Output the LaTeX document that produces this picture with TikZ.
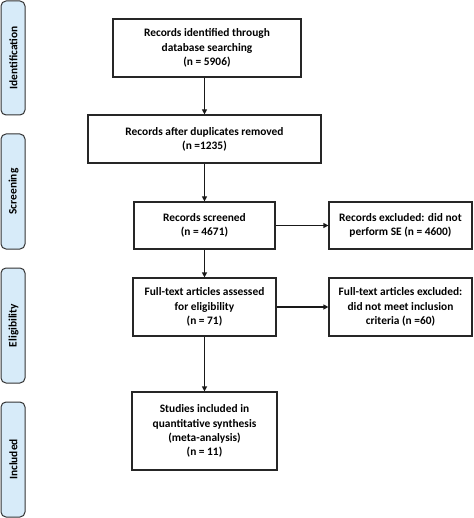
\documentclass[tikz,border=0pt]{standalone}
\usepackage{fontspec}
\setmainfont{Carlito}
\usetikzlibrary{arrows.meta}
\begin{document}
\begin{tikzpicture}[x=1pt,y=-1pt,
  box/.style={draw=black!85,line width=1.2pt,align=center,font=\bfseries\fontsize{11.4}{14.2}\selectfont,inner sep=0pt},
  phase/.style={draw=black!80,line width=1pt,rounded corners=5pt},
  phasetext/.style={font=\bfseries\fontsize{11.4}{13}\selectfont,rotate=90},
  arr/.style={-{Triangle[length=5pt,width=5pt]},line width=1.2pt,black!90}]
\useasboundingbox (0,0) rectangle (473,518);
\definecolor{phasefill}{HTML}{D7EBF9}
% phases
\draw[phase,fill=phasefill] (1,1) rectangle (25,115);
\node[phasetext] (pid) at (13.5,58) {Identification};
\draw[phase,fill=phasefill] (1,134) rectangle (25,249);
\node[phasetext] (psc) at (13.5,191.5) {Screening};
\draw[phase,fill=phasefill] (1,268) rectangle (25,383);
\node[phasetext] (pel) at (13.5,325.5) {Eligibility};
\draw[phase,fill=phasefill] (1,402) rectangle (25,517);
\node[phasetext] (pin) at (13.5,459.5) {Included};
% boxes
\node[box,minimum width=188pt,minimum height=58pt] (b1) at (207,48) {Records identified through\\database searching\\(n = 5906)};
\node[box,minimum width=233pt,minimum height=48pt] (b2) at (204.5,139) {Records after duplicates removed\\(n =1235)};
\node[box,minimum width=141pt,minimum height=47pt] (b3) at (204.5,225.5) {Records screened\\(n = 4671)};
\node[box,minimum width=143pt,minimum height=47pt] (e1) at (400.5,225.5) {Records excluded: did not\\perform SE (n = 4600)};
\node[box,minimum width=143pt,minimum height=58pt] (b4) at (204.5,307) {Full-text articles assessed\\for eligibility\\(n = 71)};
\node[box,minimum width=143pt,minimum height=58pt] (e2) at (400.5,307) {Full-text articles excluded:\\did not meet inclusion\\criteria (n =60)};
\node[box,minimum width=145pt,minimum height=78pt] (b5) at (204.5,431) {Studies included in\\quantitative synthesis\\(meta-analysis)\\(n = 11)};
% arrows
\draw[arr] (b1.south -| b2) -- (b2.north);
\draw[arr] (b2.south) -- (b3.north);
\draw[arr] (b3.south) -- (b4.north);
\draw[arr] (b4.south) -- (b5.north);
\draw[arr] (b3.east) -- (e1.west);
\draw[arr] (b4.east) -- (e2.west);
\end{tikzpicture}
\end{document}
